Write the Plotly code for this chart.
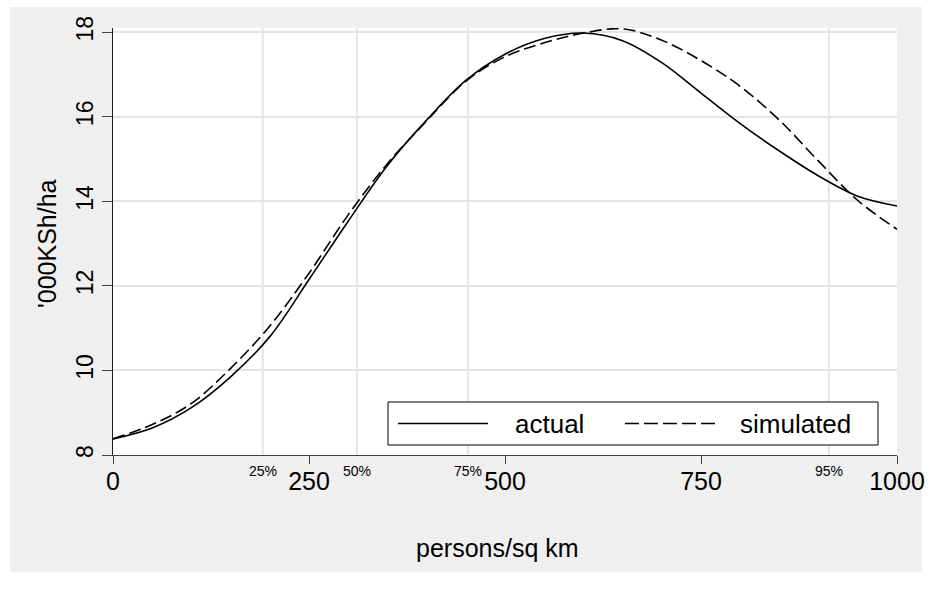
import plotly.graph_objects as go

# Density (persons per sq km) and land value ('000 KSh per ha)
density = [0, 50, 100, 150, 200, 250, 300, 350, 400, 450, 500,
           550, 600, 650, 700, 750, 800, 850, 900, 950, 1000]
actual = [8.38, 8.64, 9.12, 9.85, 10.80, 12.15, 13.53, 14.85, 15.92, 16.86, 17.48,
          17.85, 17.98, 17.80, 17.28, 16.56, 15.84, 15.19, 14.60, 14.12, 13.89]
simulated = [8.38, 8.72, 9.22, 10.05, 11.05, 12.30, 13.68, 14.89, 15.90, 16.84, 17.42,
             17.75, 17.98, 18.08, 17.81, 17.33, 16.72, 15.92, 14.95, 14.02, 13.34]

series_names = ["actual", "simulated"]

x_ticks = [0, 250, 500, 750, 1000]
y_ticks = [8, 10, 12, 14, 16, 18]

# Density percentiles marked along the horizontal axis
pct_positions = [191, 311, 453, 913]
pct_labels = ["25%", "50%", "75%", "95%"]

FONT = "Liberation Sans, Arial, sans-serif"
GRID = "#e4e4e4"

fig = go.Figure()
fig.add_trace(go.Scatter(x=density, y=actual, mode="lines", name=series_names[0],
                         line=dict(color="black", width=1.6, shape="spline"),
                         showlegend=False))
fig.add_trace(go.Scatter(x=density, y=simulated, mode="lines", name=series_names[1],
                         line=dict(color="black", width=1.6, shape="spline", dash="12px,5px"),
                         showlegend=False))

shapes = [
    # grey backdrop panel and white plotting region
    dict(type="rect", xref="paper", yref="paper", x0=-0.1314, x1=1.0319, y0=-0.274, y1=1.049,
         fillcolor="#efefef", line=dict(width=0), layer="below"),
    dict(type="rect", xref="paper", yref="paper", x0=0, x1=1, y0=0, y1=1,
         fillcolor="white", line=dict(width=0), layer="below"),
]
for p in pct_positions:
    shapes.append(dict(type="line", xref="x", yref="paper", x0=p, x1=p, y0=0, y1=1,
                       line=dict(color=GRID, width=2), layer="below"))

# legend box drawn by hand
lx0, lx1, ly0, ly1 = 0.3508, 0.9758, 0.0234, 0.1241
ly = (ly0 + ly1) / 2
shapes += [
    dict(type="rect", xref="paper", yref="paper", x0=lx0, x1=lx1, y0=ly0, y1=ly1,
         fillcolor="white", line=dict(color="black", width=1), layer="above"),
    dict(type="line", xref="paper", yref="paper", x0=0.3635, x1=0.4783, y0=ly, y1=ly,
         line=dict(color="black", width=1.6), layer="above"),
    dict(type="line", xref="paper", yref="paper", x0=0.6530, x1=0.7717, y0=ly, y1=ly,
         line=dict(color="black", width=1.6, dash="14px,5px"), layer="above"),
]

annotations = [
    dict(text=series_names[0], xref="paper", yref="paper", x=0.5102, y=ly,
         xanchor="left", yanchor="middle", showarrow=False, font=dict(size=26, color="black")),
    dict(text=series_names[1], xref="paper", yref="paper", x=0.797, y=ly,
         xanchor="left", yanchor="middle", showarrow=False, font=dict(size=26, color="black")),
    dict(text="persons/sq km", xref="paper", yref="paper", x=0.49, y=-0.218,
         xanchor="center", yanchor="middle", showarrow=False, font=dict(size=25, color="black")),
    dict(text="'000KSh/ha", xref="paper", yref="paper", x=-0.0842, y=0.4965, textangle=-90,
         xanchor="center", yanchor="middle", showarrow=False, font=dict(size=25, color="black")),
]
for p, lab in zip(pct_positions, pct_labels):
    annotations.append(dict(text=lab, xref="x", yref="paper", x=p, y=-0.0375,
                            xanchor="center", yanchor="middle", showarrow=False,
                            font=dict(size=14, color="black")))

fig.update_layout(
    width=944, height=595,
    margin=dict(l=113, r=47, t=28, b=140, pad=0),
    paper_bgcolor="white", plot_bgcolor="white",
    font=dict(family=FONT, color="black"),
    shapes=shapes, annotations=annotations,
    xaxis=dict(range=[0, 1000], tickvals=x_ticks, ticktext=[str(v) for v in x_ticks],
               showgrid=False, zeroline=False, showline=True, linecolor="#404040", linewidth=1,
               ticks="outside", ticklen=8, tickcolor="#404040", tickwidth=1,
               ticklabelstandoff=-4, tickfont=dict(size=25, color="black")),
    yaxis=dict(range=[8, 18.1], tickvals=y_ticks, ticktext=[str(v) for v in y_ticks],
               showgrid=True, gridcolor=GRID, gridwidth=2, zeroline=False,
               showline=True, linecolor="#202020", linewidth=1,
               ticks="outside", ticklen=10, tickcolor="#404040", tickwidth=1,
               tickangle=-90, tickfont=dict(size=23, color="black")),
)

fig.write_html("out.html")
